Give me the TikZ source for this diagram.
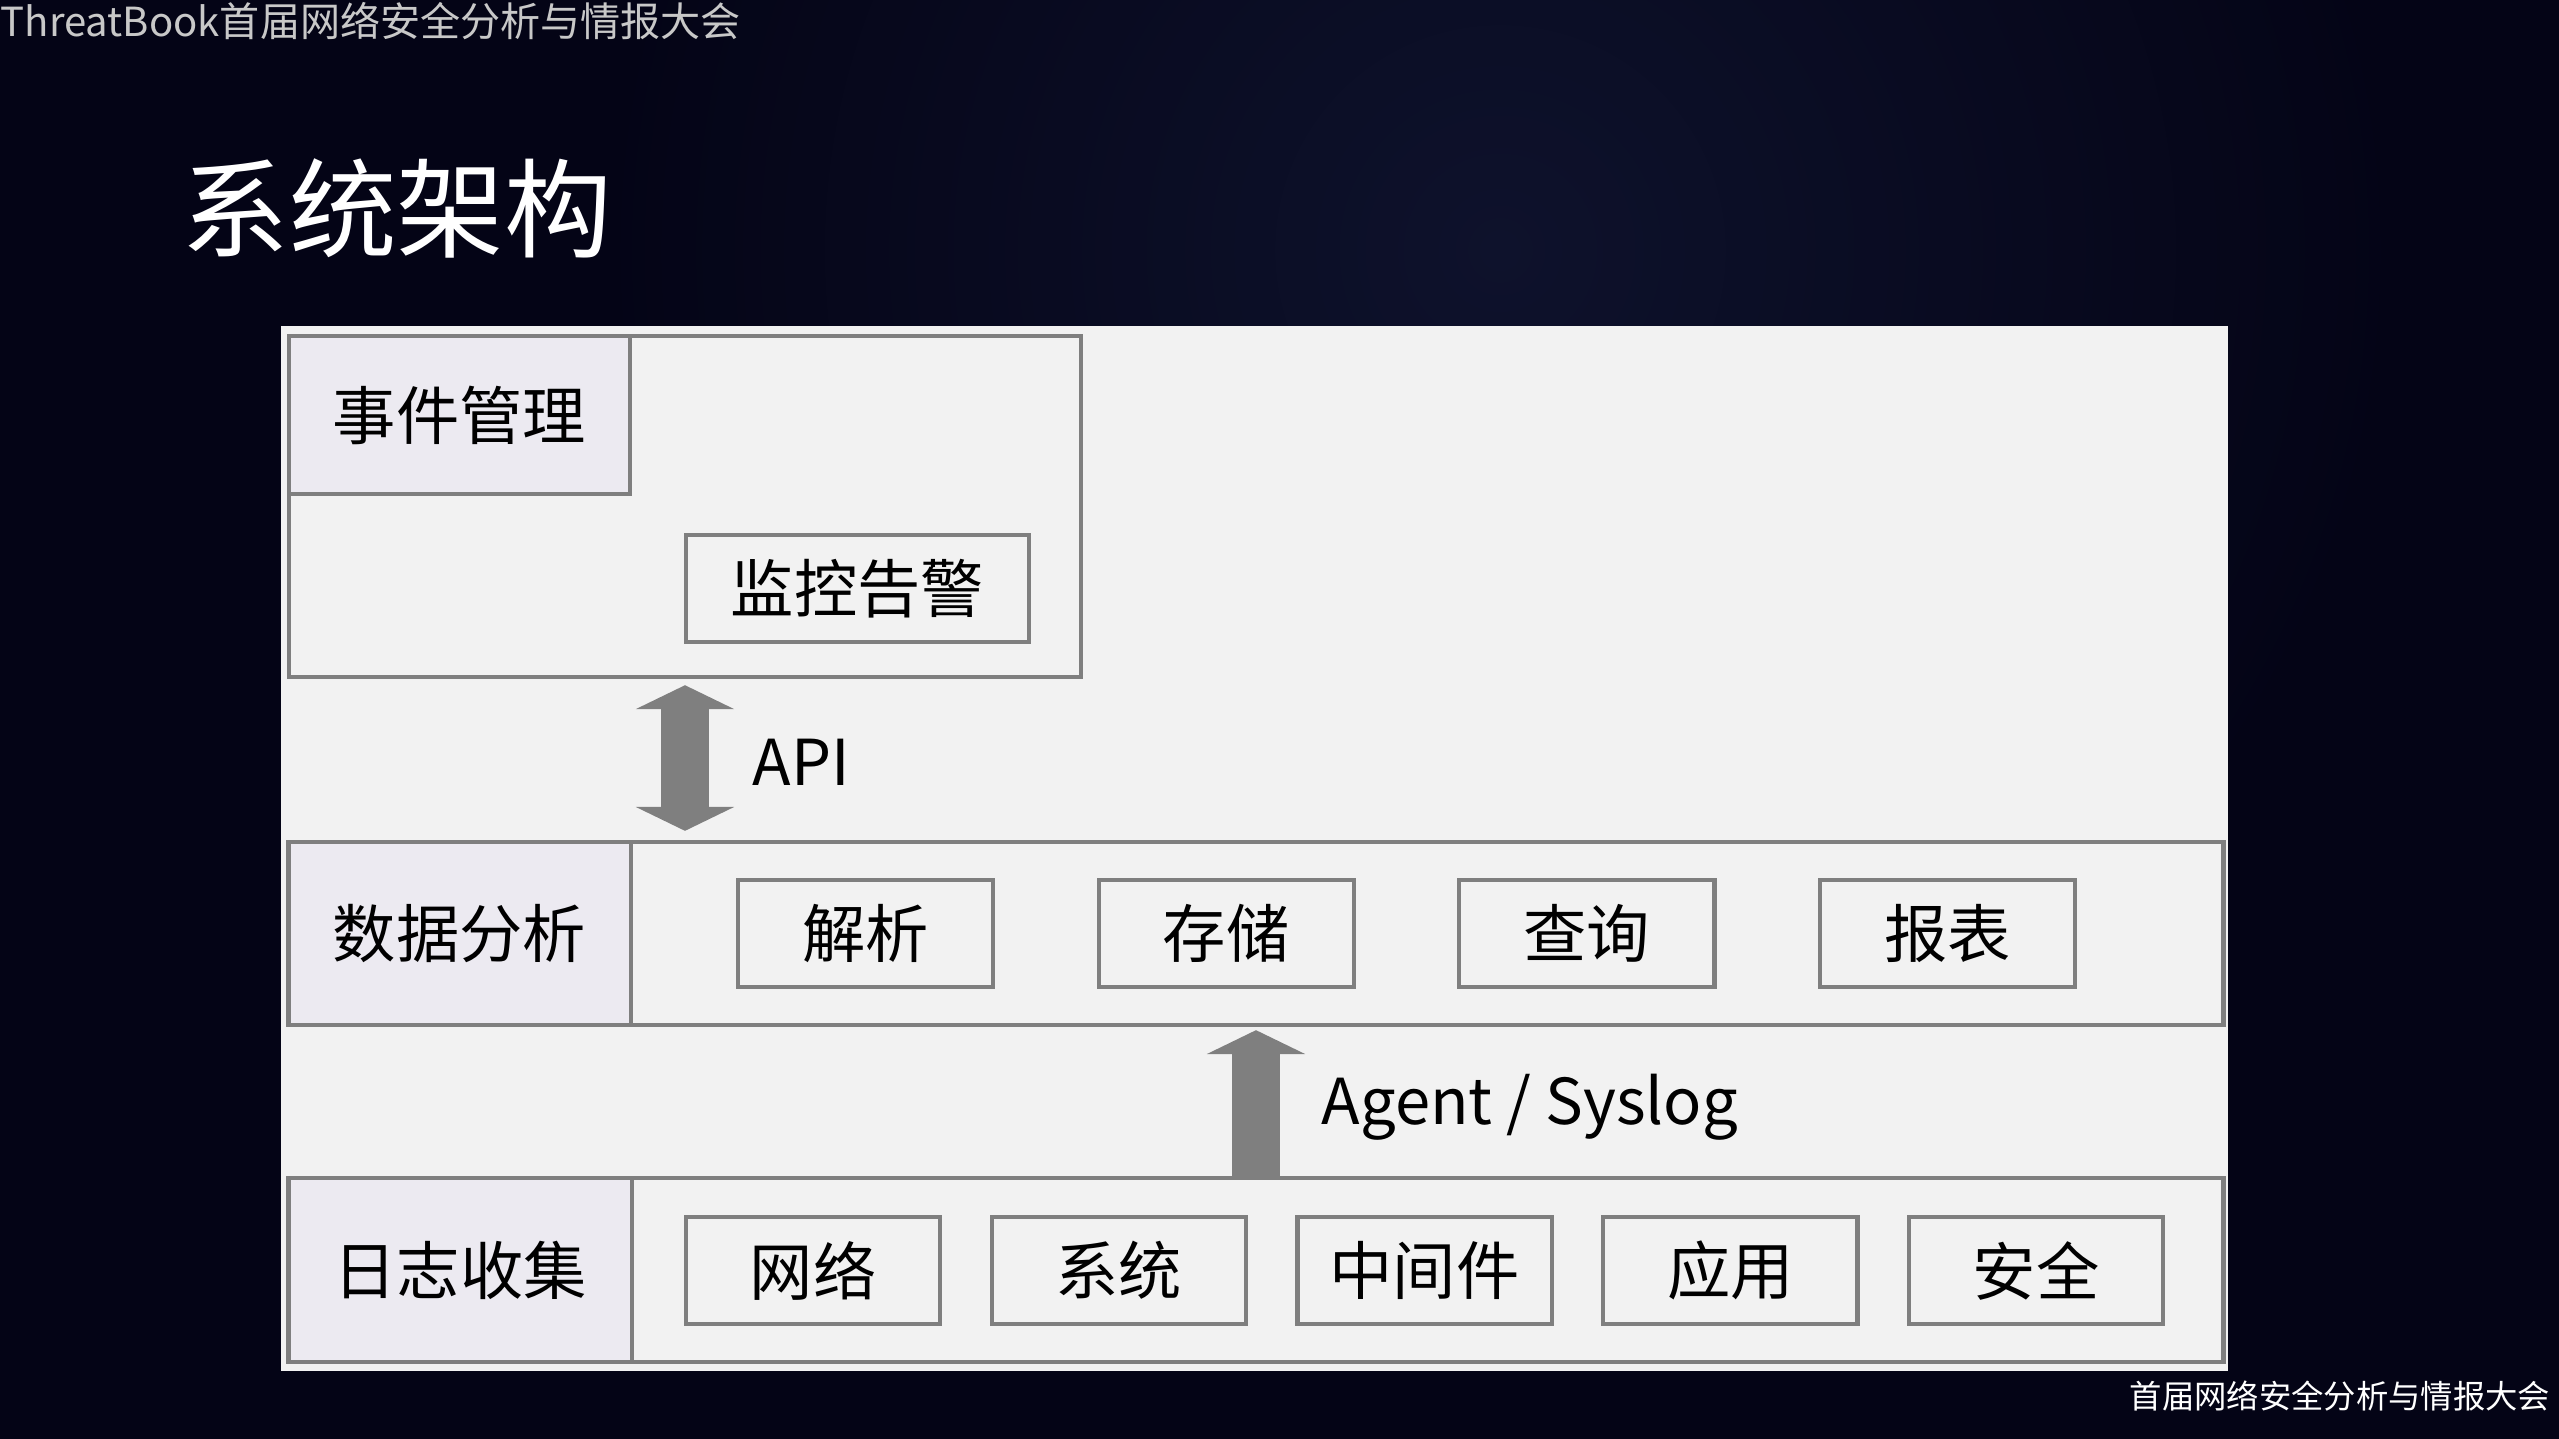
\documentclass[tikz,border=0pt]{standalone}
\usepackage{fontspec}
\setmainfont{Noto Sans CJK SC}
\usetikzlibrary{arrows.meta}
\definecolor{slidebg}{RGB}{4,4,22}
\definecolor{slideglow}{RGB}{14,18,44}
\definecolor{panelgray}{RGB}{242,242,242}
\definecolor{labelfill}{RGB}{236,234,241}
\definecolor{linegray}{RGB}{127,127,127}
\definecolor{headgray}{RGB}{200,200,200}

\begin{document}
\begin{tikzpicture}[x=0.01cm, y=-0.01cm,
  rowbox/.style={draw=linegray, line width=1.2pt, fill=panelgray, inner sep=0pt},
  headbox/.style={draw=linegray, line width=1.2pt, fill=labelfill, inner sep=0pt, font=\fontsize{18}{20}\selectfont},
  itembox/.style={draw=linegray, line width=1.2pt, fill=panelgray, inner sep=0pt, minimum width=2.55cm, minimum height=1.07cm, font=\fontsize{18}{20}\selectfont},
  fattip/.tip={Triangle[width=28pt, length=6.8pt, line width=0pt]},
  fatarrow/.style={draw=linegray, line width=13.6pt},
  arrowtext/.style={inner sep=0pt, font=\fontsize{18}{20}\selectfont}]

  \useasboundingbox (0,0) rectangle (2559,1439);
  \fill[slidebg] (0,0) rectangle (2559,1439);
  \shade[inner color=slideglow, outer color=slidebg] (1500,250) circle (0.9cm*10);
  \fill[panelgray] (281,326) rectangle (2228,1371);

  \node[text=headgray, anchor=base west, inner sep=0pt, font=\fontsize{11.4}{13}\selectfont] (header) at (0,36) {ThreatBook首届网络安全分析与情报大会};
  \node[text=white, anchor=west, inner sep=0pt, font=\fontsize{30.6}{34}\selectfont] (title) at (181,208) {系统架构};
  \node[text=white, anchor=east, inner sep=0pt, font=\fontsize{9.2}{11}\selectfont] (footer) at (2551,1396) {首届网络安全分析与情报大会};

  \node[rowbox, minimum width=7.92cm, minimum height=3.41cm] (eventrow) at (685,506.5) {};
  \node[headbox, anchor=north west, minimum width=3.41cm, minimum height=1.58cm] (eventhead) at (eventrow.north west) {事件管理};
  \node[itembox, minimum width=3.43cm] (monitor) at (857.5,588.5) {监控告警};

  \node[rowbox, minimum width=19.34cm, minimum height=1.83cm] (analysisrow) at (1256,933.5) {};
  \node[headbox, anchor=west, minimum width=3.42cm, minimum height=1.83cm] (analysishead) at (analysisrow.west) {数据分析};
  \foreach \name/\txt [count=\i] in {parse/解析, store/存储, query/查询, report/报表}
    \node[itembox] (\name) at ({865.5+360.7*(\i-1)},933.5) {\txt};

  \node[rowbox, minimum width=19.34cm, minimum height=1.84cm] (collectrow) at (1256,1270) {};
  \node[headbox, anchor=west, minimum width=3.43cm, minimum height=1.84cm] (collecthead) at (collectrow.west) {日志收集};
  \foreach \name/\txt [count=\i] in {net/网络, sys/系统, mid/中间件, app/应用, sec/安全}
    \node[itembox, minimum width=2.54cm] (\name) at ({813+305.8*(\i-1)},1270.5) {\txt};

  \draw[fatarrow, fattip-fattip, shorten <=0.06cm, shorten >=0.09cm] (eventrow.south) -- (eventrow.south |- analysisrow.north);
  \node[arrowtext, anchor=base west] (apilabel) at (752,785) {API};

  \draw[fatarrow, -fattip, shorten >=0.03cm] (collectrow.north) -- (analysisrow.south);
  \node[arrowtext, anchor=base west] (agentlabel) at (1321,1124) {Agent / Syslog};
\end{tikzpicture}
\end{document}
